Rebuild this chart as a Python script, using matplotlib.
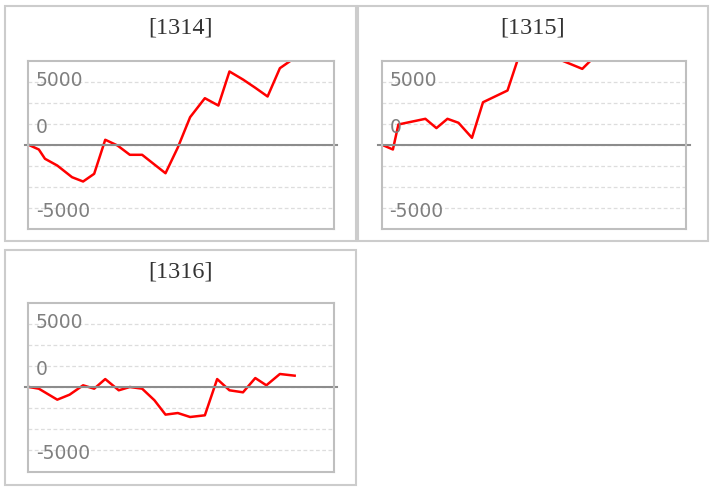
import matplotlib.pyplot as plt
from matplotlib.patches import Rectangle
import numpy as np

# Series data (x = trading day offset, y = cumulative P/L)
titles = ["[1314]", "[1315]", "[1316]"]

x_1314 = [0, 0.8, 1.3, 2.3, 3.5, 4.4, 5.3, 6.2, 7.2, 8.2, 9.2, 10.2, 11.1,
          12.1, 13.1, 14.3, 15.4, 16.3, 17.4, 18.4, 19.4, 20.4, 21.4]
y_1314 = [0, -530, -1630, -2430, -3810, -4320, -3410, 620, -60, -1160, -1160,
          -2310, -3340, -300, 3290, 5540, 4670, 8700, 7750, 6770, 5740, 9090, 10100]

x_1315 = [0, 0.85, 1.3, 3.5, 4.4, 5.3, 6.2, 7.3, 8.2, 10.2, 11.1, 12.1, 13.1,
          14.3, 16.3, 17.4, 18.4, 19.4, 20.4, 21.4]
y_1315 = [0, -530, 2430, 3100, 2000, 3100, 2630, 850, 5060, 6450, 10400, 12000,
          12800, 10200, 9010, 10600, 12000, 12700, 12300, 13200]

x_1316 = [0, 0.8, 2.3, 3.3, 4.4, 5.3, 6.2, 7.3, 8.2, 9.2, 10.2, 11.1, 12.1,
          13.1, 14.3, 15.3, 16.3, 17.4, 18.4, 19.3, 20.4, 21.6]
y_1316 = [0, -200, -1500, -910, 200, -200, 940, -390, 0, -200, -1570, -3270,
          -3080, -3550, -3350, 940, -390, -630, 1060, 200, 1540, 1340]

series = [(x_1314, y_1314), (x_1315, y_1315), (x_1316, y_1316)]

# axis tick labels as they appear on the chart
label_texts = ["5000", "0", "-5000"]
label_pos = [7650, 2100, -7850]

W, H = 714, 493


def frac(x0, y0, x1, y1):
    return [x0 / W, 1 - y1 / H, (x1 - x0) / W, (y1 - y0) / H]


# outer panel boxes and plot areas in pixels
panels = [(5, 6, 356, 241), (358, 6, 708, 241), (5, 250, 356, 485)]
plots = [(28, 60.5, 334, 229.5), (381.5, 60.5, 686.5, 229.5), (28, 302.5, 334, 471.5)]

fig = plt.figure(figsize=(W / 100, H / 100), dpi=100)

for i, (title, (xs, ys)) in enumerate(zip(titles, series)):
    px0, py0, px1, py1 = panels[i]
    fig.patches.append(Rectangle((px0 / W, 1 - py1 / H), (px1 - px0) / W, (py1 - py0) / H,
                                 transform=fig.transFigure, fill=False,
                                 edgecolor='#cccccc', linewidth=1.5))
    fig.text((px0 + px1) / 2 / W, 1 - (py0 + 22) / H, title, ha='center', va='center',
             family='Liberation Serif', fontsize=17.5, color='#333333')

    ax = fig.add_axes(frac(*plots[i]))
    ax.plot(xs, ys, color='red', linewidth=1.8)
    ax.set_xlim(-0.08, 24.8)
    ax.set_ylim(-10000, 10000)
    ax.set_yticks(np.arange(-7500, 7501, 2500))
    ax.set_xticks([])
    ax.tick_params(axis='y', length=0, labelleft=False)
    ax.grid(axis='y', color='#dddddd', linestyle=(0, (3, 2)), linewidth=0.9)
    ax.axhline(0, xmin=-0.01, xmax=1.01, color='#8c8c8c', linewidth=1.5, clip_on=False)
    for s in ax.spines.values():
        s.set_color('#bfbfbf')
        s.set_linewidth(1.5)
    for t, yv in zip(label_texts, label_pos):
        ax.text(0.026, yv, t, transform=ax.get_yaxis_transform(), ha='left', va='center',
                fontsize=13.5, color='#7f7f7f')

plt.savefig('out.png', dpi=100)
